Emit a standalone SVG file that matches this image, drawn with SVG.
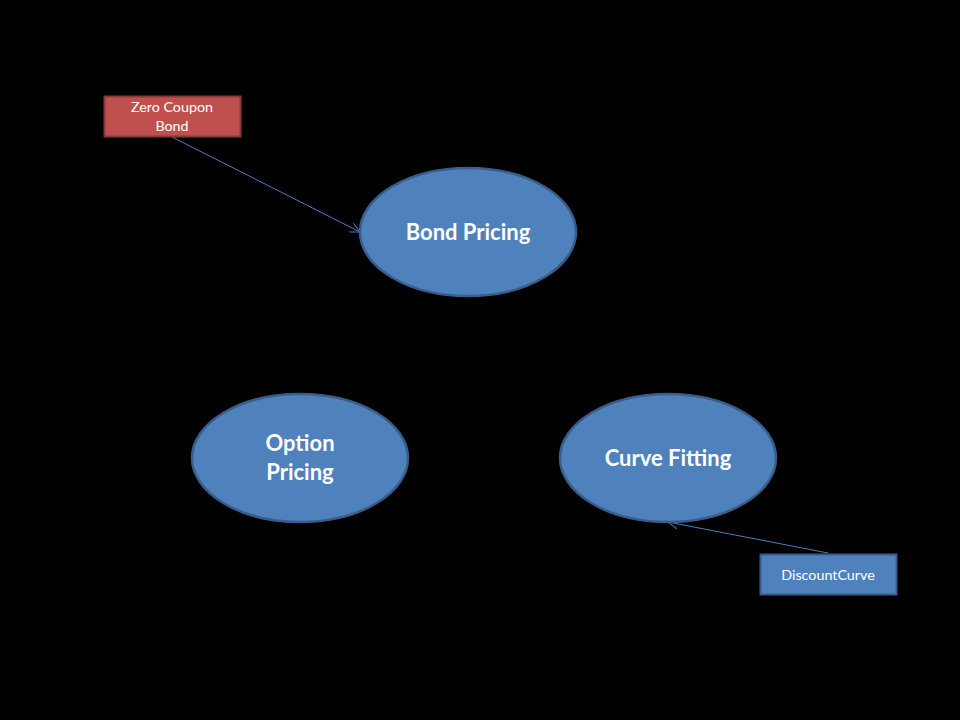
<svg xmlns="http://www.w3.org/2000/svg" width="960" height="720" viewBox="0 0 960 720">
<style>
.ell{fill:#4f81bd;stroke:#385d8a;stroke-width:2.5}
.big{font-family:Lato,"Open Sans",sans-serif;font-weight:bold;font-size:22px;fill:#fff;text-anchor:middle}
.small{font-family:Lato,"Open Sans",sans-serif;font-size:14.3px;fill:#fff;text-anchor:middle}
.conn{stroke:#4a7ebb;stroke-width:1;fill:none}
</style>
<defs>
<marker id="arr" viewBox="0 0 10 10" refX="10" refY="5" markerWidth="10" markerHeight="10" markerUnits="userSpaceOnUse" orient="auto">
<path d="M0,0 L10,5 L0,10" fill="none" stroke="#4a7ebb" stroke-width="1"/>
</marker>
</defs>
<rect width="960" height="720" fill="#000"/>
<g id="connectors">
<line class="conn" x1="172" y1="137" x2="360" y2="232" marker-end="url(#arr)"/>
<line class="conn" x1="828" y1="553" x2="668" y2="522" marker-end="url(#arr)"/>
</g>
<g id="bond-pricing">
<ellipse class="ell" cx="468" cy="232" rx="108" ry="64"/>
<text class="big" x="468" y="240">Bond Pricing</text>
</g>
<g id="option-pricing">
<ellipse class="ell" cx="300" cy="458" rx="108" ry="64"/>
<text class="big" x="300" y="451">Option</text>
<text class="big" x="300" y="480">Pricing</text>
</g>
<g id="curve-fitting">
<ellipse class="ell" cx="668" cy="458" rx="108" ry="64"/>
<text class="big" x="668" y="466">Curve Fitting</text>
</g>
<g id="zero-coupon-bond">
<rect x="104.5" y="96.5" width="136" height="40" fill="#c0504d" stroke="#8c3836" stroke-width="2"/>
<text class="small" x="172" y="112">Zero Coupon</text>
<text class="small" x="172" y="131">Bond</text>
</g>
<g id="discount-curve">
<rect x="760.5" y="554.5" width="136" height="40" fill="#4f81bd" stroke="#385d8a" stroke-width="2"/>
<text class="small" x="828" y="580">DiscountCurve</text>
</g>
</svg>
